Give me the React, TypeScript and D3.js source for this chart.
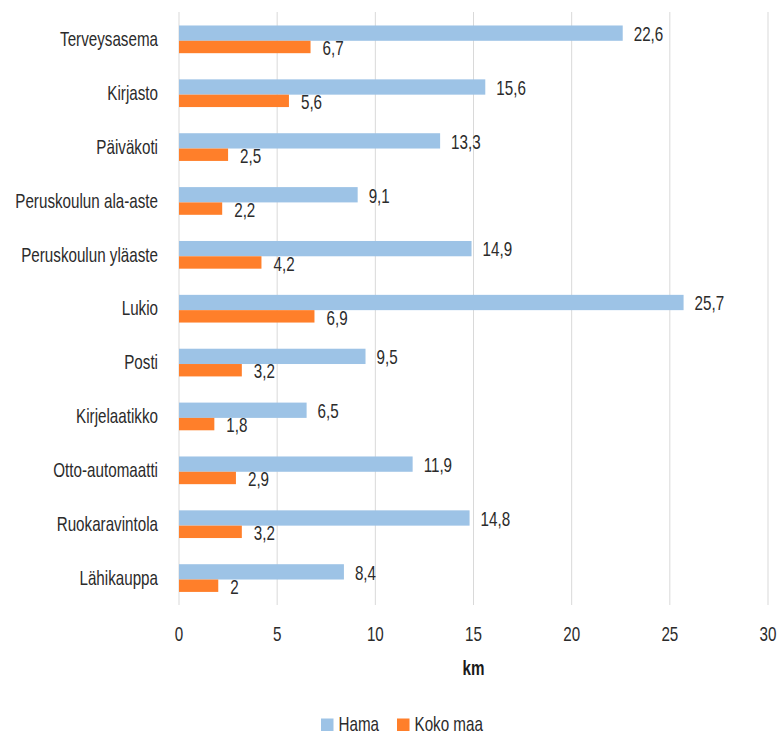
import React from "react";
import * as d3 from "d3";

const categories = [
  "Terveysasema",
  "Kirjasto",
  "Päiväkoti",
  "Peruskoulun ala-aste",
  "Peruskoulun yläaste",
  "Lukio",
  "Posti",
  "Kirjelaatikko",
  "Otto-automaatti",
  "Ruokaravintola",
  "Lähikauppa",
];
const hamaValues = [22.6, 15.6, 13.3, 9.1, 14.9, 25.7, 9.5, 6.5, 11.9, 14.8, 8.4];
const kokoMaaValues = [6.7, 5.6, 2.5, 2.2, 4.2, 6.9, 3.2, 1.8, 2.9, 3.2, 2];
const xTicks = [0, 5, 10, 15, 20, 25, 30];
const seriesNames = ["Hama", "Koko maa"];
const seriesColors = ["#9DC3E6", "#FF7F2A"];

const W = 779;
const H = 733;
const FONT = "'Liberation Sans', Arial, sans-serif";
const TEXT = "#2b2b2b";
const SX = 0.76;

function T({
  x,
  y,
  anchor = "start",
  size = 20,
  weight = "normal",
  fill = TEXT,
  children,
}: {
  x: number;
  y: number;
  anchor?: string;
  size?: number;
  weight?: string;
  fill?: string;
  children: React.ReactNode;
}) {
  return (
    <text
      transform={`translate(${x},${y}) scale(${SX},1)`}
      textAnchor={anchor as any}
      dominantBaseline="central"
      fontSize={size}
      fontWeight={weight}
      fill={fill}
    >
      {children}
    </text>
  );
}

export default function App() {
  const x = d3.scaleLinear().domain([0, 30]).range([179, 768]);
  const y = d3.scaleBand<string>().domain(categories).range([12.4, 605]);
  const fmt = (v: number) => String(v).replace(".", ",");
  const blueH = 15.3;
  const orangeH = 12.4;

  return (
    <svg
      width={W}
      height={H}
      style={{ position: "absolute", left: 0, top: 0, background: "#fff" }}
      fontFamily={FONT}
    >
      {xTicks.map((t) => (
        <line
          key={"g" + t}
          x1={x(t)}
          x2={x(t)}
          y1={12}
          y2={605}
          stroke="#D9D9D9"
          strokeWidth={1}
        />
      ))}
      {categories.map((c, i) => {
        const cy = (y(c) as number) + y.bandwidth() / 2;
        const groupTop = cy - (blueH + orangeH) / 2;
        const bTop = groupTop;
        const oTop = groupTop + blueH;
        return (
          <g key={c}>
            <T x={158} y={cy} anchor="end">
              {c}
            </T>
            <rect
              x={x(0)}
              y={bTop}
              width={x(hamaValues[i]) - x(0)}
              height={blueH}
              fill={seriesColors[0]}
            />
            <rect
              x={x(0)}
              y={oTop}
              width={x(kokoMaaValues[i]) - x(0)}
              height={orangeH}
              fill={seriesColors[1]}
            />
            <T x={x(hamaValues[i]) + 11} y={bTop + blueH / 2 + 1}>
              {fmt(hamaValues[i])}
            </T>
            <T x={x(kokoMaaValues[i]) + 12} y={oTop + orangeH / 2 + 1.5}>
              {fmt(kokoMaaValues[i])}
            </T>
          </g>
        );
      })}
      {xTicks.map((t) => (
        <T key={"t" + t} x={x(t)} y={634} anchor="middle">
          {t}
        </T>
      ))}
      <T x={(x(0) + x(30)) / 2} y={668} anchor="middle" weight="bold" fill="#1a1a1a">
        km
      </T>
      <rect x={321} y={718.5} width={12.5} height={12.5} fill={seriesColors[0]} />
      <T x={338.5} y={724.5}>{seriesNames[0]}</T>
      <rect x={397} y={718.5} width={12.5} height={12.5} fill={seriesColors[1]} />
      <T x={414.5} y={724.5}>{seriesNames[1]}</T>
    </svg>
  );
}
